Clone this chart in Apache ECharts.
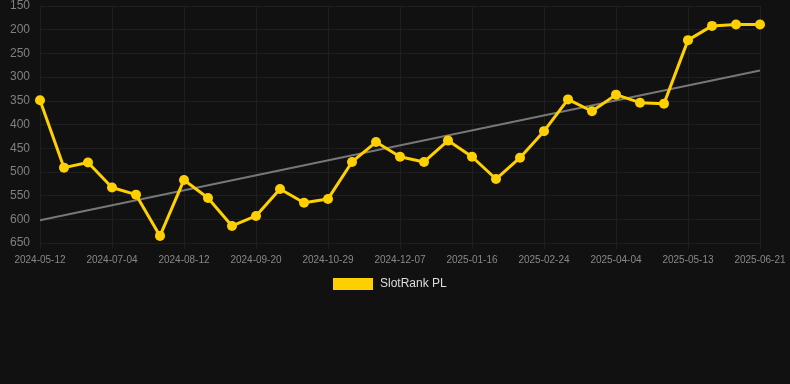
<!DOCTYPE html>
<html>
<head>
<meta charset="utf-8">
<script src="https://cdn.jsdelivr.net/npm/echarts@6/dist/echarts.min.js"></script>
<style>
html,body{margin:0;padding:0;background:#111111;}
#chart{width:790px;height:384px;}
</style>
</head>
<body>
<div id="chart"></div>
<script>
var categories = [
  "2024-05-12","2024-06-08","2024-06-21","2024-07-04","2024-07-17","2024-07-30",
  "2024-08-12","2024-08-25","2024-09-07","2024-09-20","2024-10-03","2024-10-16",
  "2024-10-29","2024-11-11","2024-11-24","2024-12-07","2024-12-20","2025-01-03",
  "2025-01-16","2025-01-29","2025-02-11","2025-02-24","2025-03-09","2025-03-22",
  "2025-04-04","2025-04-17","2025-04-30","2025-05-13","2025-05-26","2025-06-08",
  "2025-06-21"
];
var rankValues = [
  349, 491, 480, 533, 548, 635,
  517, 555, 614, 593, 536, 565,
  557, 479, 437, 468, 479, 434,
  468, 515, 470, 414, 347, 372,
  337, 354, 356, 222, 192, 189,
  189
];
var trendStart = 602;
var trendEnd = 286;
var yTicks = [150, 650, 50]; // min, max, step

var trendData = categories.map(function (c, i) {
  if (i === 0) return trendStart;
  if (i === categories.length - 1) return trendEnd;
  return null;
});

var chart = echarts.init(document.getElementById('chart'));
chart.setOption({
  backgroundColor: '#111111',
  animation: false,
  grid: { left: 40, right: 30, top: 6, bottom: 141, containLabel: false },
  legend: {
    data: ['SlotRank PL'],
    top: 273,
    left: 328,
    itemWidth: 40,
    itemHeight: 12,
    itemGap: 10,
    icon: 'rect',
    textStyle: { color: '#dddddd', fontSize: 12, padding: [0, 0, 0, 2], fontFamily: 'Liberation Sans, Arial, sans-serif' }
  },
  xAxis: {
    type: 'category',
    data: categories,
    boundaryGap: false,
    axisLine: { show: false },
    axisTick: { show: true, interval: 2, length: 6, lineStyle: { color: '#1f1f1f' } },
    axisLabel: {
      interval: 2,
      color: '#888888',
      fontSize: 10,
      margin: 12,
      fontFamily: 'Liberation Sans, Arial, sans-serif'
    },
    splitLine: { show: true, interval: 2, lineStyle: { color: '#1f1f1f', width: 1 } }
  },
  yAxis: {
    type: 'value',
    inverse: true,
    min: yTicks[0],
    max: yTicks[1],
    interval: yTicks[2],
    axisLine: { show: false },
    axisTick: { show: false },
    axisLabel: {
      color: '#808080',
      fontSize: 12,
      margin: 10,
      fontFamily: 'Liberation Sans, Arial, sans-serif'
    },
    splitLine: { show: true, lineStyle: { color: '#1f1f1f', width: 1 } }
  },
  series: [
    {
      name: 'Trend',
      type: 'line',
      data: trendData,
      connectNulls: true,
      showSymbol: false,
      symbol: 'none',
      lineStyle: { color: '#777777', width: 2 },
      silent: true,
      z: 1
    },
    {
      name: 'SlotRank PL',
      type: 'line',
      data: rankValues,
      symbol: 'circle',
      symbolSize: 10,
      itemStyle: { color: '#FFD000' },
      lineStyle: { color: '#FFD000', width: 3 },
      z: 2
    }
  ]
});
</script>
</body>
</html>
